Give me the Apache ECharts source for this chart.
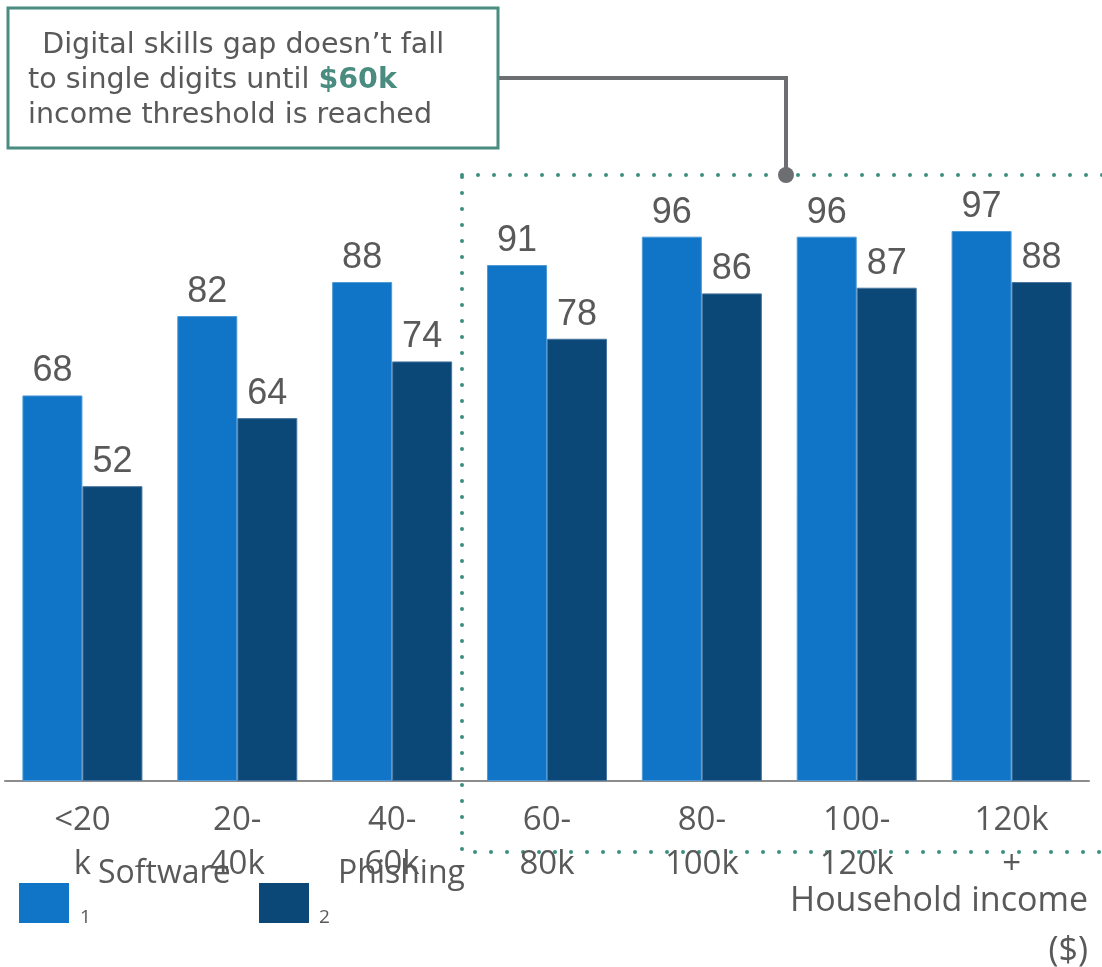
<!DOCTYPE html>
<html>
<head>
<meta charset="utf-8">
<script src="https://cdn.jsdelivr.net/npm/echarts@6/dist/echarts.min.js"></script>
<style>
  html, body { margin: 0; padding: 0; background: #fff; }
  #chart { width: 1102px; height: 967px; }
</style>
</head>
<body>
<div id="chart"></div>
<script>
// income brackets (wrapped the way the slide shows them)
const categories = ['<20\nk', '20-\n40k', '40-\n60k', '60-\n80k', '80-\n100k', '100-\n120k', '120k\n+'];
const software = [68, 82, 88, 91, 96, 96, 97];
const phishing = [52, 64, 74, 78, 86, 87, 88];
const seriesNames = ['Software', 'Phishing'];

const BLUE = '#1075c6';
const NAVY = '#0b4878';
const TEAL = '#4a8c80';
const GREY_TEXT = '#595959';
const LINE_GREY = '#6d6e71';

const chart = echarts.init(document.getElementById('chart'));

// legend text sits higher than the swatch, so push it up with an empty second line
const legendBase = {
  top: 858,
  padding: 0,
  itemWidth: 50,
  itemHeight: 40,
  icon: 'rect',
  itemStyle: { borderWidth: 0 },
  formatter: name => `{t|${name}}\n{e| }`,
  textStyle: {
    fontFamily: 'Open Sans',
    fontSize: 32,
    color: GREY_TEXT,
    rich: {
      t: { fontFamily: 'Open Sans', fontSize: 32, color: GREY_TEXT, lineHeight: 58, padding: [0, 0, 0, 24] },
      e: { fontSize: 10, lineHeight: 58 }
    }
  }
};

chart.setOption({
  animation: false,
  grid: { left: 5, right: 13, top: 214, bottom: 186 },
  legend: [
    Object.assign({ left: 19, data: [seriesNames[0]] }, legendBase),
    Object.assign({ left: 259, data: [seriesNames[1]] }, legendBase)
  ],
  xAxis: {
    type: 'category',
    data: categories,
    axisTick: { show: false },
    axisLine: { lineStyle: { color: '#8c8c8c', width: 2 } },
    axisLabel: {
      color: GREY_TEXT,
      fontFamily: 'Open Sans',
      fontSize: 33,
      lineHeight: 44,
      margin: 18,
      interval: 0
    }
  },
  yAxis: {
    type: 'value',
    min: 0,
    max: 100,
    show: false
  },
  series: [
    {
      name: seriesNames[0],
      type: 'bar',
      data: software,
      barGap: 0,
      barCategoryGap: '22.5%',
      itemStyle: { color: BLUE, borderColor: '#4f9ad6', borderWidth: 1 },
      label: {
        show: true,
        position: 'top',
        distance: 6,
        color: GREY_TEXT,
        fontFamily: 'Liberation Sans',
        fontSize: 36
      }
    },
    {
      name: seriesNames[1],
      type: 'bar',
      data: phishing,
      itemStyle: { color: NAVY, borderColor: '#4a77a0', borderWidth: 1 },
      label: {
        show: true,
        position: 'top',
        distance: 6,
        color: GREY_TEXT,
        fontFamily: 'Liberation Sans',
        fontSize: 36
      }
    }
  ],
  graphic: [
    // dotted highlight box round the $60k+ brackets
    {
      type: 'rect',
      shape: { x: 462, y: 175, width: 700, height: 677 },
      style: { fill: null, stroke: '#3e8e7e', lineWidth: 4, lineDash: [0, 16], lineCap: 'round' },
      silent: true
    },
    // connector from the callout
    {
      type: 'polyline',
      shape: { points: [[498, 78], [786, 78], [786, 172]] },
      style: { fill: null, stroke: LINE_GREY, lineWidth: 4 },
      silent: true
    },
    {
      type: 'circle',
      shape: { cx: 786, cy: 175, r: 8 },
      style: { fill: LINE_GREY },
      silent: true
    },
    // callout box
    {
      type: 'rect',
      shape: { x: 8, y: 8, width: 490, height: 140 },
      style: { fill: '#fff', stroke: TEAL, lineWidth: 3 },
      silent: true
    },
    {
      type: 'text',
      left: 28,
      top: 28,
      style: {
        text: '\u2002Digital skills gap doesn\u2019t fall\nto single digits until {b|$60k}\nincome threshold is reached',
        fontFamily: 'DejaVu Sans',
        fontSize: 28.5,
        lineHeight: 35,
        fill: GREY_TEXT,
        rich: {
          b: { fontFamily: 'DejaVu Sans', fontSize: 28.5, fontWeight: 'bold', fill: TEAL, lineHeight: 35 }
        }
      },
      silent: true
    },
    // axis title, right aligned line by line
    {
      type: 'text',
      x: 1088,
      y: 876,
      style: {
        text: 'Household income\n($)',
        align: 'right',
        verticalAlign: 'top',
        fontFamily: 'Open Sans',
        fontSize: 34,
        lineHeight: 50,
        fill: GREY_TEXT
      },
      silent: true
    },
    // stray footnote markers next to the legend swatches
    {
      type: 'text',
      left: 80,
      top: 908,
      style: { text: '1', fontFamily: 'Open Sans', fontSize: 19, fill: GREY_TEXT },
      silent: true
    },
    {
      type: 'text',
      left: 319,
      top: 908,
      style: { text: '2', fontFamily: 'Open Sans', fontSize: 19, fill: GREY_TEXT },
      silent: true
    }
  ]
});
</script>
</body>
</html>
